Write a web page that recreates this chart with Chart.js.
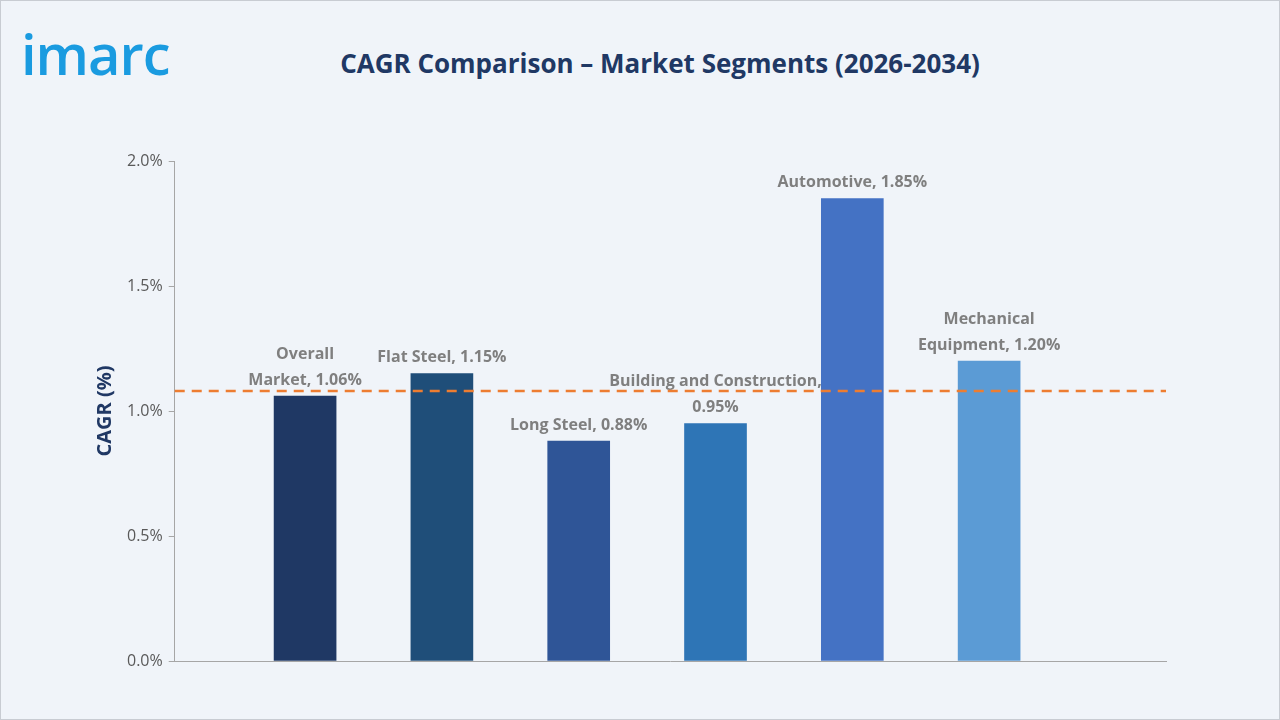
<!DOCTYPE html>
<html>
<head>
<meta charset="utf-8">
<script src="https://cdn.jsdelivr.net/npm/chart.js@4"></script>
<style>
  body { margin: 0; background: #fff; }
  #wrap { position: relative; width: 1278px; height: 718px; border: 1px solid #c8ccd2; background: #f0f4f9; font-family: "Open Sans", sans-serif; }
  #logo { position: absolute; left: 20px; top: 14px; font: 600 56px "Open Sans", sans-serif; color: #1a9be0; letter-spacing: -1px; }
  #title { position: absolute; left: 20px; width: 100%; top: 44px; text-align: center; font: bold 26px "Open Sans", sans-serif; color: #203864; }
  #box { position: absolute; left: 0; top: 100px; width: 1278px; height: 600px; }
</style>
</head>
<body>
<div id="wrap">
  <div id="logo">imarc</div>
  <div id="title">CAGR Comparison – Market Segments (2026-2034)</div>
  <div id="box"><canvas id="grafico"></canvas></div>
</div>
<script>
const categorias = [["Overall", "Market, 1.06%"], ["Flat Steel, 1.15%"], ["Long Steel, 0.88%"],
    ["Building and Construction,", "0.95%"], ["Automotive, 1.85%"], ["Mechanical", "Equipment, 1.20%"]];
const valores = [1.06, 1.15, 0.88, 0.95, 1.85, 1.20];
const cores = ["#1f3864", "#1f4e79", "#2f5597", "#2e75b6", "#4472c4", "#5b9bd5"];
const media = 1.08;

const rotulos = {
    id: "rotulos",
    afterDatasetsDraw(c) {
        const ctx = c.ctx;
        const meta = c.getDatasetMeta(0);
        ctx.save();
        ctx.font = "bold 16px 'Open Sans', sans-serif";
        ctx.fillStyle = "#7f7f7f";
        ctx.textAlign = "center";
        ctx.textBaseline = "bottom";
        meta.data.forEach((b, i) => {
            const linhas = categorias[i];
            linhas.forEach((t, k) => {
                ctx.fillText(t, b.x, b.y - 8 - (linhas.length - 1 - k) * 26);
            });
        });
        // linha media
        const y = c.scales.y.getPixelForValue(media);
        ctx.strokeStyle = "#ed7d31";
        ctx.lineWidth = 2.5;
        ctx.setLineDash([10, 7]);
        ctx.beginPath();
        ctx.moveTo(c.chartArea.left, y);
        ctx.lineTo(c.chartArea.right, y);
        ctx.stroke();
        ctx.restore();
    }
};

new Chart(document.getElementById("grafico"), {
    type: "bar",
    data: {
        datasets: [{
            data: valores.map((v, i) => ({ x: i, y: v })),
            backgroundColor: cores,
            barThickness: 62
        }]
    },
    options: {
        responsive: true,
        maintainAspectRatio: false,
        animation: false,
        layout: { padding: { top: 60, right: 113, bottom: 32, left: 88 } },
        plugins: { legend: { display: false }, tooltip: { enabled: false } },
        scales: {
            x: {
                type: "linear", min: -0.5, max: 5.84,
                grid: { display: false },
                border: { color: "#a6a6a6" },
                ticks: { display: false }
            },
            y: {
                min: 0, max: 2.0,
                grid: { display: true, drawOnChartArea: false, drawTicks: true, tickLength: 6, color: "#a6a6a6" },
                border: { color: "#a6a6a6" },
                ticks: {
                    stepSize: 0.5, color: "#595959", padding: 6,
                    font: { size: 16, family: "'Open Sans', sans-serif" },
                    callback: v => v.toFixed(1) + "%"
                },
                title: {
                    display: true, text: "CAGR (%)", color: "#203864",
                    font: { size: 20, weight: "bold", family: "'Open Sans', sans-serif" }
                }
            }
        }
    },
    plugins: [rotulos]
});
</script>
</body>
</html>
